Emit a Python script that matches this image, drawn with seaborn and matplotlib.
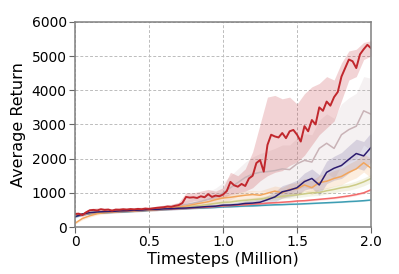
import numpy as np
import pandas as pd
import matplotlib
matplotlib.use("Agg")
import matplotlib.pyplot as plt
import seaborn as sns

# ---- data ----
t_fine = [i * 0.025 for i in range(81)]
t_coarse = [i * 0.05 for i in range(41)]

red_mean = [380, 390, 350, 430, 490, 500, 485, 520, 500, 510,
            480, 510, 505, 520, 510, 525, 515, 530, 520, 540,
            530, 545, 560, 570, 580, 600, 590, 620, 640, 700,
            880, 860, 870, 850, 900, 870, 960, 880, 920, 900,
            950, 1050, 1320, 1220, 1180, 1260, 1200, 1420, 1500, 1870,
            1960, 1620, 2400, 2700, 2650, 2620, 2750, 2600, 2800, 2840,
            2700, 2500, 2950, 2800, 3130, 3000, 3500, 3400, 3670, 3550,
            3800, 3950, 4400, 4650, 4900, 4850, 4650, 5050, 5200, 5330,
            5230]
red_lo = [320, 300, 420, 440, 450, 440, 460, 470, 470, 480, 490, 510, 530, 550,
          580, 700, 760, 780, 800, 820, 850, 950, 1000, 1050, 1150, 1350, 1500,
          1600, 1650, 1800, 1900, 2100, 2400, 2700, 2900, 3100, 3700, 4300, 4400,
          4900, 5000]
red_hi = [440, 420, 540, 560, 560, 540, 560, 560, 570, 580, 580, 610, 640, 660,
          720, 1000, 1000, 1050, 1100, 1050, 1150, 1600, 1500, 1700, 2200, 3000,
          3800, 3850, 3750, 3800, 3600, 3900, 4100, 4200, 4400, 4300, 4800, 5150,
          5200, 5400, 5450]

grey_mean = [330, 380, 420, 440, 460, 470, 480, 490, 500, 510, 520, 540, 560, 590,
             620, 660, 700, 750, 810, 880, 1000, 1150, 1300, 1450, 1550, 1600, 1620,
             1650, 1700, 1680, 1850, 1950, 1900, 2300, 2450, 2300, 2700, 2850, 2950,
             3400, 3300]
grey_sd = [40, 40, 40, 40, 40, 40, 40, 40, 40, 40, 50, 60, 70, 80, 100, 120, 150,
           180, 220, 260, 300, 350, 400, 450, 500, 550, 600, 650, 700, 720, 750, 780,
           800, 830, 860, 880, 900, 930, 960, 1000, 1050]

navy_mean = [300, 380, 420, 440, 450, 455, 470, 475, 490, 495, 510, 515, 530, 535,
             550, 555, 570, 585, 600, 610, 640, 645, 660, 690, 700, 725, 800, 880,
             1030, 1080, 1150, 1330, 1420, 1230, 1600, 1720, 1800, 1980, 2150, 2080,
             2330]
navy_sd = [40, 40, 40, 40, 40, 40, 40, 40, 40, 40, 40, 40, 40, 40, 40, 40, 40, 40,
           50, 50, 60, 60, 70, 80, 90, 100, 120, 150, 180, 200, 220, 250, 280, 300,
           330, 350, 380, 400, 420, 420, 430]

orange_mean = [110, 250, 330, 390, 420, 440, 455, 470, 480, 490, 500, 515, 540, 555,
               590, 615, 660, 700, 740, 800, 850, 870, 900, 930, 950, 930, 990, 1050,
               1000, 1100, 1120, 1230, 1150, 1300, 1340, 1420, 1480, 1600, 1700, 1880,
               1720]
orange_sd = [30, 40, 40, 40, 40, 40, 40, 40, 40, 40, 40, 40, 40, 50, 50, 60, 60, 70,
             80, 90, 100, 100, 110, 120, 120, 130, 140, 150, 160, 170, 180, 190, 200,
             210, 220, 230, 240, 250, 260, 270, 280]

khaki_mean = [330, 380, 410, 430, 440, 455, 465, 475, 485, 495, 510, 520, 535, 550,
              565, 585, 610, 630, 660, 690, 720, 730, 760, 780, 800, 820, 850, 860,
              900, 920, 940, 970, 1000, 1010, 1060, 1100, 1150, 1180, 1240, 1320, 1420]
khaki_sd = [30, 30, 30, 30, 30, 30, 30, 30, 30, 30, 30, 30, 30, 30, 30, 35, 35, 40,
            40, 45, 50, 50, 55, 60, 60, 65, 70, 70, 75, 80, 80, 85, 90, 90, 95, 100,
            100, 105, 110, 115, 120]

salmon_mean = [330, 370, 400, 420, 430, 440, 450, 460, 470, 480, 495, 505, 515, 525,
               535, 545, 560, 570, 580, 600, 615, 625, 640, 650, 670, 680, 700, 710,
               725, 740, 760, 770, 790, 810, 830, 850, 880, 910, 950, 1000, 1090]
salmon_sd = [25] * 20 + [30] * 21

teal_mean = [300, 360, 390, 410, 420, 430, 440, 450, 460, 470, 490, 500, 510, 520,
             530, 540, 550, 555, 565, 575, 590, 595, 605, 615, 620, 630, 640, 650,
             655, 665, 670, 680, 690, 700, 710, 720, 730, 745, 755, 770, 790]
teal_sd = [20] * 41

colors = {
    "grey": "#c9b3b7",
    "teal": "#3d9db3",
    "salmon": "#f26a6a",
    "khaki": "#cccb85",
    "orange": "#f2a55c",
    "navy": "#2c1c70",
    "red": "#c1272d",
}

# ---- figure ----
sns.set_style("white")
plt.rcParams["font.family"] = ["DejaVu Sans"]
plt.rcParams["text.color"] = "black"
plt.rcParams["axes.labelcolor"] = "black"
plt.rcParams["xtick.color"] = "black"
plt.rcParams["ytick.color"] = "black"
fig = plt.figure(figsize=(3.99, 2.74), dpi=100)
ax = fig.add_axes([0.188, 0.1715, 0.742, 0.7485])

coarse_series = [
    ("grey", grey_mean, grey_sd, 0.18),
    ("teal", teal_mean, teal_sd, 0.2),
    ("salmon", salmon_mean, salmon_sd, 0.2),
    ("khaki", khaki_mean, khaki_sd, 0.22),
    ("orange", orange_mean, orange_sd, 0.2),
    ("navy", navy_mean, navy_sd, 0.15),
]
tc = np.array(t_coarse)
for name, m, sd, a in coarse_series:
    m = np.array(m, float)
    sd = np.array(sd, float)
    ax.fill_between(tc, m - sd, m + sd, color=colors[name], alpha=a, lw=0)
ax.fill_between(tc, red_lo, red_hi, color=colors["red"], alpha=0.2, lw=0)

frames = []
for name, m, sd, a in coarse_series:
    frames.append(pd.DataFrame({"t": t_coarse, "ret": m, "method": name}))
frames.append(pd.DataFrame({"t": t_fine, "ret": red_mean, "method": "red"}))
df = pd.concat(frames, ignore_index=True)

order = ["grey", "teal", "salmon", "khaki", "orange", "navy", "red"]
for name in order:
    sub = df[df["method"] == name]
    sns.lineplot(data=sub, x="t", y="ret", color=colors[name],
                 lw=1.4 if name == "red" else 1.1, ax=ax, legend=False,
                 errorbar=None)

ax.set_xlim(0, 2.0)
ax.set_ylim(0, 6000)
ax.set_xticks([0, 0.5, 1.0, 1.5, 2.0])
ax.set_xticklabels(["0", "0.5", "1.0", "1.5", "2.0"])
ax.set_yticks([0, 1000, 2000, 3000, 4000, 5000, 6000])
ax.set_xlabel("Timesteps (Million)", fontsize=11.5, labelpad=2)
ax.set_ylabel("Average Return", fontsize=11.5, labelpad=4)
ax.tick_params(axis="both", labelsize=10, length=4, width=0.8, color="#666666",
               labelcolor="black", direction="out", bottom=True, left=True, pad=2)
ax.grid(True, linestyle=(0, (3, 2)), color="#bcbcbc", linewidth=0.7)
ax.set_axisbelow(True)
for s in ax.spines.values():
    s.set_color("#808080")
    s.set_linewidth(1.1)

fig.savefig("out.png", dpi=100)
